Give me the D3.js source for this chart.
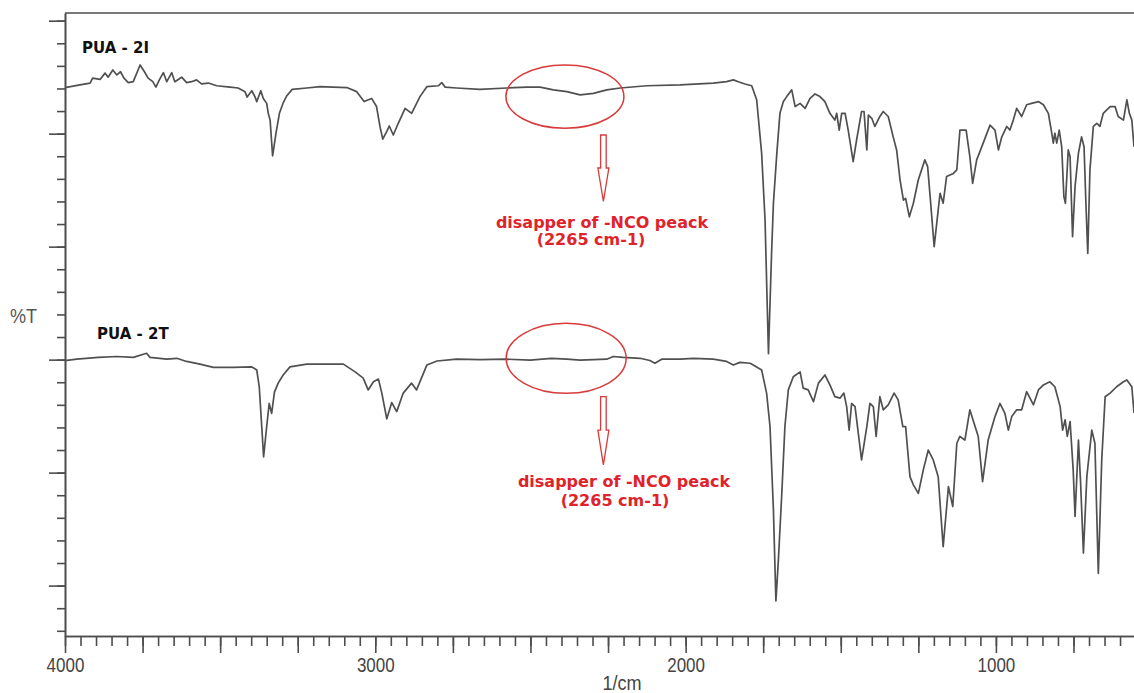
<!DOCTYPE html>
<html>
<head>
<meta charset="utf-8">
<script src="https://cdn.jsdelivr.net/npm/d3@7"></script>
<style>
  body { margin: 0; background: #fff; }
  svg { display: block; }
</style>
</head>
<body>
<svg id="chart" width="1134" height="693"></svg>
<script>
// FTIR spectra: [wavenumber (1/cm), %T]
const pua2I = [
  [4000,120.2],[3952,120.8],[3919,121.2],[3911,122.3],[3887,122.0],[3871,123.4],[3861,122.5],[3846,124.1],
  [3833,123.0],[3821,123.7],[3810,122.3],[3796,121.3],[3780,121.5],[3758,125.2],[3744,123.7],[3732,122.3],
  [3717,121.5],[3707,120.3],[3696,121.9],[3683,123.5],[3672,121.5],[3656,123.5],[3646,121.5],[3624,122.5],
  [3608,121.3],[3592,121.5],[3576,121.9],[3560,121.0],[3538,121.2],[3511,120.6],[3468,120.3],[3442,120.1],
  [3420,119.3],[3413,118.1],[3398,119.5],[3388,118.2],[3382,117.1],[3369,119.5],[3361,117.8],[3350,116.7],
  [3345,114.5],[3339,113.0],[3331,105.1],[3320,110.1],[3309,114.5],[3297,116.8],[3285,118.4],[3268,119.8],
  [3221,120.1],[3178,120.4],[3092,120.2],[3060,119.3],[3036,117.1],[3012,117.8],[2996,116.0],[2985,111.6],
  [2976,108.8],[2963,110.5],[2955,111.7],[2942,109.7],[2926,112.3],[2904,115.6],[2883,114.5],[2856,118.2],
  [2834,120.4],[2797,120.6],[2786,121.3],[2775,120.3],[2738,120.1],[2663,119.8],[2577,120.1],[2512,120.3],
  [2469,120.3],[2426,119.7],[2383,119.3],[2340,118.6],[2297,118.9],[2254,119.7],[2211,120.1],[2125,120.6],
  [2018,120.8],[1911,121.2],[1868,121.5],[1846,121.9],[1830,121.5],[1809,121.0],[1787,120.6],[1771,117.5],
  [1755,105.7],[1744,90.9],[1733,61.3],[1723,83.5],[1717,94.6],[1706,105.7],[1696,114.5],[1685,117.1],
  [1674,118.2],[1658,119.7],[1647,116.0],[1631,116.7],[1615,115.6],[1599,117.8],[1583,118.8],[1567,118.2],
  [1551,117.1],[1535,114.5],[1519,113.0],[1513,114.5],[1505,110.8],[1497,114.5],[1486,114.5],[1476,110.8],
  [1460,103.8],[1449,108.6],[1433,114.9],[1425,114.9],[1416,106.4],[1411,114.1],[1400,113.4],[1390,111.6],
  [1374,113.8],[1363,114.9],[1347,113.8],[1331,109.3],[1320,106.4],[1309,99.8],[1298,95.3],[1291,95.7],
  [1279,91.6],[1266,94.6],[1250,99.8],[1229,104.2],[1220,102.7],[1212,96.1],[1199,85.0],[1186,93.1],
  [1180,96.8],[1170,94.6],[1159,100.5],[1137,101.2],[1126,102.0],[1116,110.8],[1096,110.8],[1084,104.9],
  [1075,99.0],[1062,104.2],[1041,107.9],[1019,111.9],[1003,110.8],[992,106.4],[981,109.3],[965,111.6],
  [955,110.8],[944,113.0],[933,115.6],[917,113.8],[901,116.4],[885,116.7],[863,117.1],[847,116.4],
  [831,114.5],[820,110.1],[815,107.9],[810,110.1],[804,107.9],[796,110.8],[788,107.1],[781,96.1],
  [776,94.6],[767,106.4],[761,104.9],[753,87.2],[745,98.3],[734,105.7],[724,109.3],[716,107.1],
  [710,94.6],[704,83.5],[697,102.0],[686,111.6],[675,112.3],[665,111.6],[654,114.5],[632,116.0],
  [616,116.0],[606,113.8],[589,113.0],[578,117.5],[570,114.5],[562,113.0],[555,107.1]
];

const pua2T = [
  [4000,59.8],[3962,60.1],[3893,60.5],[3833,60.7],[3780,60.5],[3737,61.4],[3726,60.5],[3672,60.1],
  [3640,60.3],[3608,59.6],[3565,59.0],[3522,58.3],[3458,58.3],[3398,58.4],[3382,57.7],[3374,54.0],
  [3366,45.2],[3360,38.5],[3350,45.2],[3342,50.3],[3334,48.1],[3325,52.8],[3313,54.8],[3297,56.6],
  [3275,58.4],[3221,59.0],[3103,59.0],[3065,57.3],[3039,55.9],[3023,53.3],[3006,55.1],[2990,55.7],
  [2979,52.6],[2963,46.9],[2947,50.5],[2931,48.5],[2910,52.6],[2883,54.8],[2867,53.3],[2834,58.8],
  [2801,59.7],[2738,60.1],[2663,60.0],[2577,60.1],[2501,59.9],[2432,60.3],[2383,60.1],[2340,59.9],
  [2254,60.1],[2233,60.7],[2201,60.5],[2147,60.3],[2115,59.8],[2099,59.2],[2077,60.1],[2018,60.1],
  [1975,60.3],[1911,60.1],[1868,59.6],[1846,58.8],[1825,59.4],[1792,59.2],[1782,58.8],[1755,57.7],
  [1739,52.6],[1728,45.2],[1717,26.7],[1709,6.6],[1701,15.7],[1690,30.4],[1680,45.2],[1669,53.3],
  [1653,56.2],[1631,57.3],[1621,53.7],[1605,53.3],[1588,50.7],[1572,54.8],[1551,56.6],[1535,54.4],
  [1519,51.8],[1502,51.5],[1490,52.6],[1481,49.6],[1473,44.4],[1465,50.3],[1454,49.6],[1433,37.8],
  [1416,45.2],[1406,50.3],[1395,49.6],[1386,43.0],[1374,51.8],[1363,48.9],[1347,50.0],[1328,52.6],
  [1315,51.1],[1300,45.2],[1291,45.2],[1277,34.1],[1266,32.3],[1250,30.4],[1234,35.6],[1218,40.0],
  [1202,37.8],[1186,34.1],[1170,18.6],[1153,31.9],[1139,27.5],[1126,41.5],[1116,43.0],[1100,42.2],
  [1084,48.9],[1057,43.0],[1043,33.0],[1025,42.2],[1003,47.4],[987,50.3],[971,48.1],[960,44.4],
  [949,47.4],[933,48.9],[917,48.9],[901,52.9],[879,50.0],[863,53.3],[847,54.4],[826,55.1],
  [810,54.0],[793,49.6],[785,44.4],[777,46.7],[770,43.0],[761,46.3],[751,35.6],[745,25.3],
  [734,42.2],[727,32.6],[718,17.2],[707,34.1],[691,44.4],[681,41.5],[670,12.7],[659,37.8],
  [648,51.8],[632,52.6],[611,54.0],[589,55.1],[578,55.5],[562,54.0],[555,48.2]
];

const seriesNames = ["PUA - 2I", "PUA - 2T"];
const xTickLabels = [4000, 3000, 2000, 1000];
const yMajorTicks = [10, 35, 60, 85, 110, 135];
const ncoPeak = 2265;
const noteLines = ["disapper of -NCO peack", "(2265 cm-1)"];

const plot = { left: 65, right: 1134, top: 13, bottom: 636 };
const axisColor = "#4d4d4d";
const red = "#e0232b";

const svg = d3.select("#chart");

const x = d3.scaleLinear().domain([4000, 555]).range([plot.left, plot.right]);
const y = d3.scaleLinear().domain([-1.15, 136.7]).range([plot.bottom, plot.top]);

// top frame line
svg.append("line")
    .attr("x1", plot.left).attr("x2", plot.right)
    .attr("y1", plot.top).attr("y2", plot.top)
    .attr("stroke", axisColor).attr("stroke-width", 1.6);

// x axis: minor every 50, major every 250
svg.append("g")
    .attr("transform", `translate(0,${plot.bottom})`)
    .call(d3.axisBottom(x).tickValues(d3.range(4000, 554, -50)).tickSize(10).tickSizeOuter(0).tickFormat(""));

const xMajor = svg.append("g")
    .attr("transform", `translate(0,${plot.bottom})`)
    .call(d3.axisBottom(x).tickValues(d3.range(4000, 554, -250)).tickSize(17).tickSizeOuter(0).tickPadding(5)
        .tickFormat(d => xTickLabels.includes(d) ? d : ""));

xMajor.selectAll("text")
    .attr("transform", "scale(0.85,1)")
    .style("font-family", "'Liberation Sans', Arial, sans-serif")
    .style("font-size", "20px")
    .attr("fill", "#444");

// y axis (no labels)
svg.append("g")
    .attr("transform", `translate(${plot.left},0)`)
    .call(d3.axisLeft(y).tickValues(d3.range(0, 136, 5)).tickSize(8).tickSizeOuter(0).tickFormat(""));

svg.append("g")
    .attr("transform", `translate(${plot.left},0)`)
    .call(d3.axisLeft(y).tickValues(yMajorTicks).tickSize(16).tickSizeOuter(0).tickFormat(""));

svg.selectAll(".domain, .tick line")
    .attr("stroke", axisColor)
    .attr("stroke-width", 1.6);

// axis titles
svg.append("text")
    .attr("transform", "translate(10,323) scale(0.86,1)")
    .style("font-family", "'Liberation Sans', Arial, sans-serif")
    .style("font-size", "21px")
    .attr("fill", "#555")
    .text("%T");

svg.append("text")
    .attr("transform", "translate(622,690) scale(0.86,1)")
    .attr("text-anchor", "middle")
    .style("font-family", "'Liberation Sans', Arial, sans-serif")
    .style("font-size", "21px")
    .attr("fill", "#444")
    .text("1/cm");

// spectra
const line = d3.line()
    .x(d => x(d[0]))
    .y(d => y(d[1]));

[pua2I, pua2T].forEach(data => {
    svg.append("path")
        .datum(data)
        .attr("d", line)
        .attr("fill", "none")
        .attr("stroke", "#505050")
        .attr("stroke-width", 1.7)
        .attr("stroke-linejoin", "round");
});

// series labels
const labelPos = [[82, 53], [97, 338.5]];
seriesNames.forEach((name, i) => {
    svg.append("text")
        .attr("x", labelPos[i][0])
        .attr("y", labelPos[i][1])
        .style("font-family", "'DejaVu Sans', sans-serif")
        .style("font-weight", "bold")
        .style("font-size", "15px")
        .attr("fill", "#111")
        .text(name);
});

// -NCO annotations: ellipse, hollow arrow, note
const notes = [
    { cx: 2389, cy: 118.2, rx: 59, ry: 31.7, arrow: [109.7, 102.4, 95.0], text: [[602, 228], [591, 245]] },
    { cx: 2385, cy: 60.3, rx: 60, ry: 35, arrow: [51.8, 44.4, 36.7], text: [[624, 486.5], [615, 506]] }
];

notes.forEach(n => {
    svg.append("ellipse")
        .attr("cx", x(n.cx))
        .attr("cy", y(n.cy))
        .attr("rx", n.rx)
        .attr("ry", n.ry)
        .attr("fill", "none")
        .attr("stroke", "#d93a3a")
        .attr("stroke-width", 1.5);

    const ax = x(ncoPeak);
    const y0 = y(n.arrow[0]), yh = y(n.arrow[1]), yt = y(n.arrow[2]);
    const pts = [[ax - 2.8, y0], [ax + 2.8, y0], [ax + 2.8, yh], [ax + 5.5, yh], [ax, yt],
                 [ax - 5.5, yh], [ax - 2.8, yh]];
    svg.append("path")
        .attr("d", "M" + pts.map(p => p.join(",")).join("L") + "Z")
        .attr("fill", "#fff")
        .attr("stroke", "#d93a3a")
        .attr("stroke-width", 1.3);

    noteLines.forEach((t, i) => {
        svg.append("text")
            .attr("x", n.text[i][0])
            .attr("y", n.text[i][1])
            .attr("text-anchor", "middle")
            .style("font-family", "'DejaVu Sans', sans-serif")
            .style("font-weight", "bold")
            .style("font-size", "16px")
            .attr("fill", red)
            .text(t);
    });
});
</script>
</body>
</html>
